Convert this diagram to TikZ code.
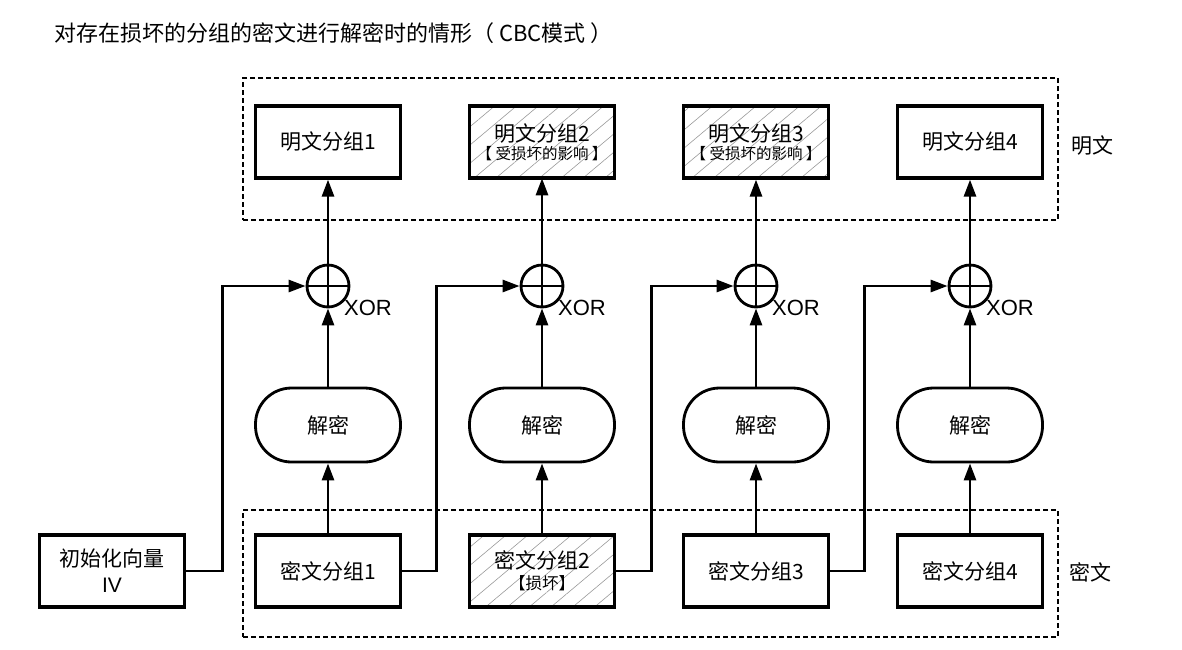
\documentclass[tikz,border=0pt]{standalone}
\usepackage{fontspec}
\setmainfont{Noto Sans CJK SC}
\newfontfamily\latinfont{Liberation Sans}
\usetikzlibrary{arrows.meta,patterns.meta}
\begin{document}
\begin{tikzpicture}[x=1pt,y=-1pt,
  box/.style={draw, line width=3.2pt, minimum width=145pt, minimum height=72pt, inner sep=0pt, align=center, font=\fontsize{21}{25}\selectfont},
  hatch/.style={pattern={Lines[angle=40,distance=14pt,line width=0.6pt]}, pattern color=black!40},
  decbox/.style={draw, line width=2.8pt, rounded corners=36pt, minimum width=145pt, minimum height=74pt, inner sep=0pt, font=\fontsize{21}{25}\selectfont},
  xorc/.style={circle, draw, line width=2.8pt, minimum size=42pt, inner sep=0pt},
  arr/.style={-{Triangle[length=17pt,width=12pt]}, line width=2.8pt},
  feed/.style={arr, line join=miter},
  groupbox/.style={draw, dash pattern=on 5pt off 3pt, line width=1.1pt, inner sep=0pt},
  xorlbl/.style={font=\latinfont\fontsize{22}{24}\selectfont, inner sep=0pt},
  sidelbl/.style={font=\fontsize{21}{24}\selectfont, inner sep=0pt}
]
\useasboundingbox (0,0) rectangle (1182,649);

% title
\node[anchor=west, inner sep=0pt, font=\fontsize{22}{25}\selectfont] (title) at (54,33) {对存在损坏的分组的密文进行解密时的情形（ CBC模式 ）};

% group boxes
\node[groupbox, minimum width=815pt, minimum height=142pt] (pgroup) at (650.5,149) {};
\node[groupbox, minimum width=815pt, minimum height=127pt] (cgroup) at (650.5,573.5) {};
\node[sidelbl] (plbl) at (1092,146) {明文};
\node[sidelbl] (clbl) at (1090,572) {密文};

% plaintext blocks
\node[box] (p1) at (328,142) {明文分组1};
\node[box, hatch] (p2) at (542,142) {明文分组2\\[-7pt]{\fontsize{15.5}{17}\selectfont 【 受损坏的影响 】}};
\node[box, hatch] (p3) at (756,142) {明文分组3\\[-7pt]{\fontsize{15.5}{17}\selectfont 【 受损坏的影响 】}};
\node[box] (p4) at (970,142) {明文分组4};

% xor circles
\foreach \i/\x in {1/328,2/542,3/756,4/970}{
  \node[xorc] (x\i) at (\x,286) {};
  \draw[line width=2.8pt] (x\i.north) -- (x\i.south) (x\i.west) -- (x\i.east);
  \node[xorlbl] (xl\i) at (\x+40,308) {XOR};
}

% decrypt
\node[decbox] (d1) at (328,425) {解密};
\node[decbox] (d2) at (542,425) {解密};
\node[decbox] (d3) at (756,425) {解密};
\node[decbox] (d4) at (970,425) {解密};

% ciphertext blocks
\node[box] (iv) at (112,571) {初始化向量\\[1pt]{\latinfont IV}};
\node[box] (c1) at (328,571) {密文分组1};
\node[box, hatch] (c2) at (542,571) {密文分组2\\[-4pt]{\fontsize{16.5}{18}\selectfont 【损坏】}};
\node[box] (c3) at (756,571) {密文分组3};
\node[box] (c4) at (970,571) {密文分组4};

% vertical arrows
\foreach \i in {1,2,3,4}{
  \draw[arr] (c\i) -- (d\i);
  \draw[arr] (d\i) -- (x\i);
  \draw[arr] (x\i) -- (p\i);
}

% feed-forward lines
\draw[feed] (iv.east) -- ++(36,0) |- (x1.west);
\draw[feed] (c1.east) -- ++(34,0) |- (x2.west);
\draw[feed] (c2.east) -- ++(35,0) |- (x3.west);
\draw[feed] (c3.east) -- ++(34,0) |- (x4.west);
\end{tikzpicture}
\end{document}
